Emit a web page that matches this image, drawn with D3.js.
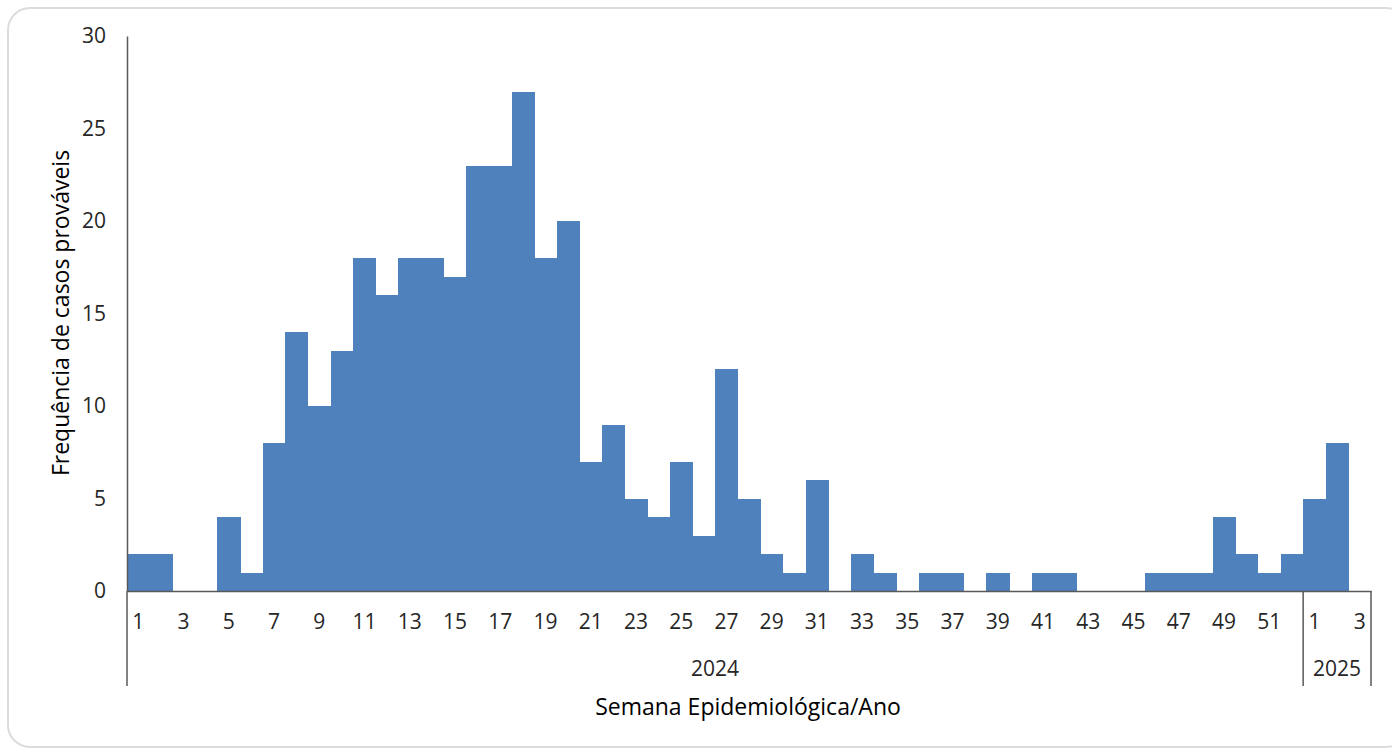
<!DOCTYPE html>
<html>
<head>
<meta charset="utf-8">
<script src="https://cdn.jsdelivr.net/npm/d3@7"></script>
<style>
  body { margin: 0; background: #fff; }
  svg { display: block; font-family: "Open Sans", sans-serif; }
</style>
</head>
<body>
<svg id="main_svg" width="1392" height="750"></svg>
<script>
// casos prováveis por semana epidemiológica
const years = ["2024", "2025"];
const weeks2024 = d3.range(1, 53);
const cases2024 = [2, 2, 0, 0, 4, 1, 8, 14, 10, 13, 18, 16, 18, 18, 17, 23, 23, 27, 18, 20,
    7, 9, 5, 4, 7, 3, 12, 5, 2, 1, 6, 0, 2, 1, 0, 1, 1, 0, 1, 0,
    1, 1, 0, 0, 0, 1, 1, 1, 4, 2, 1, 2];
const weeks2025 = [1, 2, 3];
const cases2025 = [5, 8, 0];
const yTicks = [0, 5, 10, 15, 20, 25, 30];

const data = [
    ...weeks2024.map((w, i) => ({ year: "2024", week: w, value: cases2024[i] })),
    ...weeks2025.map((w, i) => ({ year: "2025", week: w, value: cases2025[i] })),
];
data.forEach(d => d.key = `${d.year}-${d.week}`);

const svg = d3.select("#main_svg");
const margin = { top: 36, left: 127, right: 21, bottom: 159 };
const width = 1392 - margin.left - margin.right;
const height = 750 - margin.top - margin.bottom;
const axisColor = "#595959";
const textColor = "#262626";

// card frame
svg.append("rect")
    .attr("x", 8).attr("y", 8)
    .attr("width", 1400).attr("height", 739)
    .attr("rx", 22)
    .attr("fill", "#fff")
    .attr("stroke", "#dcdcdc")
    .attr("stroke-width", 2);

const g = svg.append("g").attr("transform", `translate(${margin.left},${margin.top})`);

const x = d3.scaleBand().domain(data.map(d => d.key)).range([0, width]).padding(0);
const y = d3.scaleLinear().domain([0, 30]).range([height, 0]);

// bars (no gaps, like a histogram)
g.selectAll("rect.bar")
    .data(data)
    .enter()
    .append("rect")
    .attr("class", "bar")
    .attr("x", d => x(d.key))
    .attr("y", d => y(d.value))
    .attr("width", x.bandwidth() + 0.5)
    .attr("height", d => y(0) - y(d.value))
    .attr("fill", "#4f81bd")
    .attr("shape-rendering", "crispEdges");

// y axis
const yAxis = g.append("g")
    .call(d3.axisLeft(y).tickValues(yTicks).tickSize(0).tickPadding(21));
yAxis.select(".domain").attr("stroke", axisColor).attr("stroke-width", 1.5);
yAxis.selectAll("text").attr("fill", textColor).style("font-size", "21px")
    .style("font-family", "'Open Sans', sans-serif");

// x axis: odd weeks labelled
const xAxis = g.append("g")
    .attr("transform", `translate(0,${height})`)
    .call(d3.axisBottom(x)
        .tickValues(data.filter(d => d.week % 2 === 1).map(d => d.key))
        .tickFormat(k => k.split("-")[1])
        .tickSize(0).tickPadding(23));
xAxis.select(".domain").attr("stroke", axisColor).attr("stroke-width", 1.5);
xAxis.selectAll("text").attr("fill", textColor).style("font-size", "21px")
    .style("font-family", "'Open Sans', sans-serif");

// year groups
const groupBottom = height + 95;
const yearBounds = years.map(yr => {
    const keys = data.filter(d => d.year === yr).map(d => d.key);
    return { year: yr, x0: x(keys[0]), x1: x(keys[keys.length - 1]) + x.bandwidth() };
});

const dividers = [0, ...yearBounds.map(b => b.x1)];
g.selectAll("line.divider")
    .data(dividers)
    .enter()
    .append("line")
    .attr("class", "divider")
    .attr("x1", d => d).attr("x2", d => d)
    .attr("y1", height).attr("y2", groupBottom)
    .attr("stroke", axisColor)
    .attr("stroke-width", 1.5);

g.selectAll("text.year")
    .data(yearBounds)
    .enter()
    .append("text")
    .attr("class", "year")
    .attr("x", d => (d.x0 + d.x1) / 2)
    .attr("y", height + 85)
    .attr("text-anchor", "middle")
    .attr("fill", textColor)
    .style("font-size", "21px")
    .text(d => d.year);

// axis titles
svg.append("text")
    .attr("x", margin.left + width / 2 - 1)
    .attr("y", 715)
    .attr("text-anchor", "middle")
    .attr("fill", "#000")
    .style("font-size", "23px")
    .text("Semana Epidemiológica/Ano");

svg.append("text")
    .attr("transform", "translate(69,313) rotate(-90)")
    .attr("text-anchor", "middle")
    .attr("fill", "#000")
    .style("font-size", "23px")
    .text("Frequência de casos prováveis");
</script>
</body>
</html>
